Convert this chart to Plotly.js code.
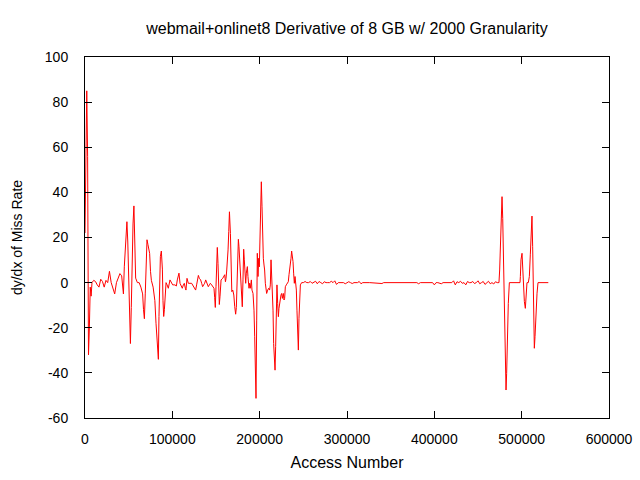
<!DOCTYPE html>
<html>
<head>
<meta charset="utf-8">
<script src="https://cdn.plot.ly/plotly-3.0.1.min.js"></script>
<style>html,body{margin:0;padding:0;background:#fff;}#chart{width:640px;height:480px;}</style>
</head>
<body>
<div id="chart"></div>
<script>
// Access number (x) and derivative of miss rate (y)
const accessNumber = [
  0, 1000, 2000, 3000, 4000, 5000, 6000, 7000, 8000, 10000, 12000, 14000, 16000, 18000, 20000,
  22000, 24000, 26000, 28000, 30000, 32000, 34000, 36000, 38000, 40000, 42000, 44000, 45000,
  47000, 48000, 49000, 50000, 51000, 52000, 53000, 54000, 55000, 56000, 57000, 58000, 60000,
  62000, 64000, 66000, 67000, 68000, 69000, 70000, 71000, 72000, 74000, 75000, 76000, 78000,
  79000, 80000, 81300, 82800, 84000, 84700, 85500, 86300, 87400, 88600, 89300, 90100, 90900,
  91600, 92800, 94000, 95400, 97300, 98500, 100400, 103000, 104600, 105700, 106900, 107600,
  108800, 110300, 111400, 112600, 113700, 114900, 115600, 116800, 118300, 122100, 124000,
  125200, 126700, 127800, 129000, 129800, 130900, 132400, 133600, 134700, 135900, 137000,
  138200, 139700, 141200, 142400, 143500, 145000, 146600, 147700, 148500, 149200, 150000,
  150800, 151500, 152300, 153100, 153800, 154600, 155800, 157700, 158800, 160000, 160800,
  161500, 162300, 163100, 163800, 164600, 165400, 166500, 167300, 168100, 169200, 170400,
  171400, 172500, 173300, 174000, 174800, 175600, 176300, 177100, 177900, 178600, 179400,
  180100, 180900, 181700, 182400, 183200, 184000, 184700, 185900, 186600, 187800, 188500,
  189300, 190500, 191200, 192400, 193500, 194300, 195000, 195800, 196600, 197300, 198100,
  198900, 199600, 200400, 201100, 201900, 202700, 203400, 204200, 205000, 205700, 206500,
  207200, 208000, 209200, 210300, 211400, 212200, 213000, 213700, 214500, 215300, 216000,
  216800, 217600, 218300, 219100, 219800, 220600, 221400, 222100, 222900, 223700, 224400,
  225200, 226000, 227100, 227900, 228600, 229400, 230500, 231700, 232800, 233600, 234700,
  235900, 236600, 237400, 238200, 238900, 239700, 240500, 241200, 242000, 242700, 243500,
  244300, 245000, 245800, 246600, 248100, 250000, 252000, 254000, 256000, 258000, 260000,
  262000, 264000, 266000, 268000, 270000, 272000, 274000, 276000, 278000, 280000, 282000,
  284000, 286000, 288000, 290000, 292000, 294000, 296000, 298000, 300000, 302000, 304000,
  306000, 308000, 312000, 314000, 316000, 318000, 320000, 326000, 340000, 342000, 380000,
  382000, 384000, 398000, 400000, 402000, 404000, 408000, 410000, 420000, 422000, 424000,
  426000, 428000, 430000, 432000, 434000, 436000, 438000, 440000, 442000, 444000, 446000,
  448000, 450000, 452000, 454000, 456000, 458000, 460000, 462000, 464000, 466000, 468000,
  470000, 472000, 474000, 474800, 475600, 476300, 477500, 478300, 479000, 480200, 481300,
  482100, 482800, 483600, 484700, 485900, 498100, 498500, 499200, 500400, 501200, 502300,
  503100, 504200, 505000, 506100, 507600, 508800, 509900, 510700, 511800, 512600, 513400,
  514500, 515300, 516400, 517600, 518700, 530500
];
const missRateDerivative = [
  22, 62, 85, 56, -32, -20, -2, -6, 0, 1, 0.5, -1, -2, 1.5, 0.5,
  -2, 1, 0, 5, 0, -3, -5, 0, 2, 4, 3, -5, 7,
  20, 27, 18, 1, -17, -27, -11, 11, 26, 34, 11, 2, 0,
  0, -2, -5, -12, -16, -5, 10, 19, 17, 13, 5, 1, -2,
  -5, -8, -18, -31, -34, -15, 6, 11.5, 14, 6, -8, -15, -12,
  -5, 0, -1, -2.5, 1.2, 0.5, -1, -1, -1.5, 1.2, 2.7, 4.2,
  -0.3, -1.8, -2.5, -1, -0.3, -2.5, -3.3, 1.9, -0.3, -0.3, -1.8,
  -2.5, -3.3, -1, 1.2, 3.2, 1.9, 1.2, -0.3, -1.8, -1, -0.3,
  1.2, -0.3, -1.8, -1, -0.3, -1, -1.8, -2.5, -6.7, -11, -1.8,
  8.5, 15.6, 8.5, -1.8, -9.7, -6, 1.2, 1.9, 2.7, 3.5, 0.4,
  1.9, 5.6, 9.3, 14.5, 22.6, 31.4, 21.8, 4.8, -4, -3.3, -5.5,
  -10.5, -14, -11, -3.3, 11.5, 19.2, 15.9, 10.8, 2.7, -0.3, -6.2,
  -10.7, 1.2, 14.8, 10.1, 2.7, -0.3, 4.2, 7.1, 2.7, -2.5, -0.3,
  -2.5, 1.2, -3.3, -4.8, -12.2, -24, -41.7, -51.3, -16.6, 13, 2.7,
  10.8, 7, 19.6, 34.4, 44.7, 33.6, 19.6, 10.8, 7.8, 5.6, -0.3,
  -2.5, -4.8, -3.3, -2.5, -3.3, -1, 10.1, 2.7, 1.2, -12.2, -27,
  -34.3, -38.8, -28.4, -12.9, -1, -9.2, -15.1, -11.4, -8.5, -7, -5.5,
  -4.8, -7, -4.8, -7.7, -7, -1.8, -1, -0.3, 0.4, 3.5, 6.3,
  10.8, 14, 11.5, 9.3, 4.2, -0.3, 2.7, -1, -3.3, -12.2, -21,
  -29.9, -15.8, -6.2, -1, 0, 0, 0.5, 0, 0, 0.5, -0.3,
  0, 0.6, -0.5, 0.5, 0, -0.5, 0.4, 0, 0, 0, 0.6,
  0, 0.8, -0.8, 0, 0, 0, 0, -0.5, 0, 0.4, 0,
  -0.4, 0, 0, 0.5, -0.5, 0, 0, 0, -0.4, 0, 0,
  -0.5, 0, 0, -1, 0, 0, -0.5, 0, 0, 0.8, -1,
  0.4, 0, 0.6, -0.3, 0, -1, 0.5, 0, 0, 0.5, -0.4,
  0, 0.8, -0.5, 0, 0.5, -0.8, 0, 0.6, -0.5, 0, -0.6,
  0.4, 0, 0, 5.6, 17.4, 30.7, 38.1, 28.5, 10.7, -9.9, -35,
  -47.6, -40.2, -25.4, -9.2, 0, 0, 2.7, 10.1, 13, 4.1, -4.7,
  -8.4, -11.4, -3.3, 0, 0, 2.7, 12.3, 23.6, 29.5, 15.9, -13.6,
  -29.1, -23.9, -12.1, -4.7, 0, 0
];

const chartTitle = 'webmail+onlinet8 Derivative of 8 GB w/ 2000 Granularity';
const xTitle = 'Access Number';
const yTitle = 'dy/dx of Miss Rate';
const xTickVals = [0, 100000, 200000, 300000, 400000, 500000, 600000];
const xTickText = ['0', '100000', '200000', '300000', '400000', '500000', '600000'];
const yTickVals = [-60, -40, -20, 0, 20, 40, 60, 80, 100];
const yTickText = ['-60', '-40', '-20', '0', '20', '40', '60', '80', '100'];

const fontFamily = '"Liberation Sans", Arial, sans-serif';

const trace = {
  x: accessNumber,
  y: missRateDerivative,
  type: 'scatter',
  mode: 'lines',
  line: {color: '#ff0000', width: 1},
  hoverinfo: 'none'
};

const axisCommon = {
  showgrid: false,
  zeroline: false,
  showline: true,
  linecolor: '#000',
  linewidth: 1,
  mirror: 'ticks',
  ticks: 'inside',
  ticklen: 7,
  tickwidth: 1,
  tickcolor: '#000',
  tickfont: {family: fontFamily, size: 14, color: '#000'}
};

const layout = {
  width: 640,
  height: 480,
  margin: {l: 85, r: 31, t: 57, b: 62},
  paper_bgcolor: '#fff',
  plot_bgcolor: '#fff',
  showlegend: false,
  font: {family: fontFamily, size: 14, color: '#000'},
  title: {
    text: chartTitle,
    font: {family: fontFamily, size: 16, color: '#000'},
    x: 0.5, xref: 'paper',
    y: 1 - 28 / 480, yref: 'container', yanchor: 'middle'
  },
  xaxis: Object.assign({}, axisCommon, {
    range: [0, 600000],
    tickvals: xTickVals,
    ticktext: xTickText,
    ticklabelstandoff: 8,
    title: {text: xTitle, font: {family: fontFamily, size: 16, color: '#000'}, standoff: 11}
  }),
  yaxis: Object.assign({}, axisCommon, {
    range: [-60, 100],
    tickvals: yTickVals,
    ticktext: yTickText,
    ticklabelstandoff: 13,
    title: {text: yTitle, font: {family: fontFamily, size: 14, color: '#000'}, standoff: 18}
  })
};

Plotly.newPlot('chart', [trace], layout, {staticPlot: true, displayModeBar: false});
</script>
</body>
</html>
